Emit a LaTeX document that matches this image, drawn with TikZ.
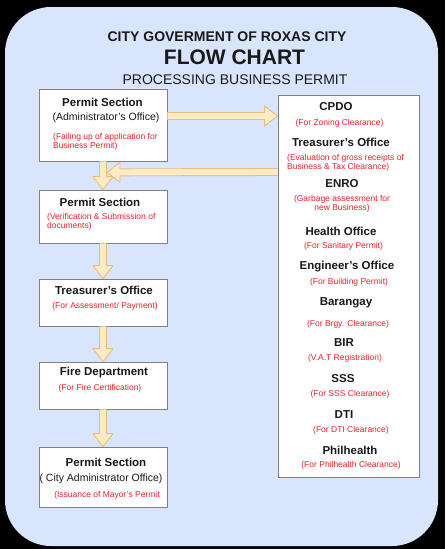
\documentclass[tikz,border=0pt]{standalone}
\usepackage{fontspec}
\setmainfont{Liberation Sans}
\usepackage{xcolor}
\usetikzlibrary{calc}
\definecolor{bgblue}{RGB}{217, 229, 252}
\definecolor{boxline}{RGB}{128, 128, 128}
\definecolor{arrfill}{RGB}{253, 235, 200}
\definecolor{arredge}{RGB}{232, 192, 118}
\definecolor{notered}{RGB}{238, 32, 42}
\definecolor{ink}{RGB}{25, 25, 25}
\tikzset{
  office/.style={draw=boxline, fill=white, line width=0.7pt, inner sep=0pt},
  headtxt/.style={font=\bfseries\fontsize{11.5}{13}\selectfont, text=ink, inner sep=0pt},
  subtxt/.style={font=\fontsize{10.5}{12}\selectfont, text=ink, inner sep=0pt},
  notetxt/.style={font=\fontsize{8.5}{9.3}\selectfont, text=notered, inner sep=0pt}
}
\newcommand{\fatarrow}[2]{%
  \coordinate (neck) at ($(#2)!13pt!(#1)$);
  \fill[arrfill] ($(#1)!3.5pt!90:(#2)$) -- ($(neck)!3.5pt!90:(#2)$) -- ($(neck)!10pt!90:(#2)$) -- (#2)
    -- ($(neck)!10pt!-90:(#2)$) -- ($(neck)!3.5pt!-90:(#2)$) -- ($(#1)!3.5pt!-90:(#2)$) -- cycle;
  \draw[arredge, line width=0.9pt, line join=round] ($(#1)!3.5pt!90:(#2)$) -- ($(neck)!3.5pt!90:(#2)$) -- ($(neck)!10pt!90:(#2)$) -- (#2)
    -- ($(neck)!10pt!-90:(#2)$) -- ($(neck)!3.5pt!-90:(#2)$) -- ($(#1)!3.5pt!-90:(#2)$);}

\begin{document}
\begin{tikzpicture}[x=1pt, y=-1pt]
      \fill[black] (0, 0) rectangle (445, 549);
      \fill[bgblue, rounded corners=46pt] (5, 7) rectangle (438, 546);

      \node[font=\bfseries\fontsize{14}{16}\selectfont, text=ink] (city) at (227, 37) {CITY GOVERMENT OF ROXAS CITY};
      \node[font=\bfseries\fontsize{21}{24}\selectfont, text=ink] (flow) at (234.5, 57) {FLOW CHART};
      \node[font=\fontsize{14}{16}\selectfont, text=ink] (proc) at (235, 80) {PROCESSING BUSINESS PERMIT};

      \node[office, minimum width=128pt, minimum height=72pt] (sec1) at (103, 125) {};
      \node[office, minimum width=128pt, minimum height=53pt] (sec2) at (103, 216.5) {};
      \node[office, minimum width=128pt, minimum height=47pt] (treas) at (103, 302.5) {};
      \node[office, minimum width=128pt, minimum height=47pt] (fire) at (103, 385.5) {};
      \node[office, minimum width=128pt, minimum height=60pt] (sec3) at (103, 477) {};
      \node[office, minimum width=141pt, minimum height=382pt] (rbox) at (348.5, 286) {};

      \node[headtxt] (sec1t) at (102.5, 102) {Permit Section};
      \node[subtxt] (sec1s) at (106, 118) {(Administrator's Office)};
      \node[notetxt, align=left, anchor=west] (sec1n) at (53, 141.5) {(Failing up of application for\\Business Permit)};

      \node[headtxt] (sec2t) at (100, 202) {Permit Section};
      \node[notetxt, align=left, anchor=west] (sec2n) at (47, 221.5) {(Verification \& Submission of\\documents)};

      \node[headtxt] (treast) at (104, 290) {Treasurer's Office};
      \node[notetxt] (treasn) at (105, 306) {(For Assessment/ Payment)};

      \node[headtxt] (firet) at (104, 373) {Fire Department};
      \node[notetxt] (firen) at (100, 388) {(For Fire Certification)};

      \node[headtxt] (sec3t) at (106, 462) {Permit Section};
      \node[subtxt] (sec3s) at (101, 479) {( City Administrator Office)};
      \node[notetxt] (sec3n) at (107, 495) {(Issuance of Mayor's Permit};

      \node[headtxt] (cpdo) at (336, 107) {CPDO};
      \node[notetxt] (cpdon) at (339.5, 123) {(For Zoning Clearance)};
      \node[headtxt] (rtreas) at (341, 142) {Treasurer's Office};
      \node[notetxt, align=left, anchor=west] (rtreasn) at (287, 162.5) {(Evaluation of gross receipts of\\Business \& Tax Clearance)};
      \node[headtxt] (enro) at (342, 184) {ENRO};
      \node[notetxt, align=center] (enron) at (342, 203.5) {(Garbage assessment for\\new Business)};
      \node[headtxt] (health) at (341, 231) {Health Office};
      \node[notetxt] (healthn) at (343.5, 246) {(For Sanitary Permit)};
      \node[headtxt] (eng) at (347, 267) {Engineer's Office};
      \node[notetxt] (engn) at (349, 282) {(For Building Permit)};
      \node[headtxt] (brgy) at (346, 303) {Barangay};
      \node[notetxt] (brgyn) at (348, 324) {(For Brgy. Clearance)};
      \node[headtxt] (bir) at (344, 343) {BIR};
      \node[notetxt] (birn) at (345, 358) {(V.A.T Registration)};
      \node[headtxt] (sss) at (343, 379) {SSS};
      \node[notetxt] (sssn) at (350, 394) {(For SSS Clearance)};
      \node[headtxt] (dti) at (344, 415) {DTI};
      \node[notetxt] (dtin) at (351, 430) {(For DTI Clearance)};
      \node[headtxt] (phil) at (350, 450) {Philhealth};
      \node[notetxt] (philn) at (351, 465) {(For Philhealth Clearance)};

      \coordinate (askout) at ($(sec1.east)+(0, -9)$);
      \coordinate (askin) at (rbox.west |- askout);
      \coordinate (backout) at ($(rbox.west)+(0, -114)$);
      \coordinate (backin) at ($(sec1.south)+(4, 11)$);

      \fatarrow{askout}{askin}
      \fatarrow{sec1.south}{sec2.north}
      \fatarrow{backout}{backin}
      \fatarrow{sec2.south}{treas.north}
      \fatarrow{treas.south}{fire.north}
      \fatarrow{fire.south}{sec3.north}
    \end{tikzpicture}
\end{document}
